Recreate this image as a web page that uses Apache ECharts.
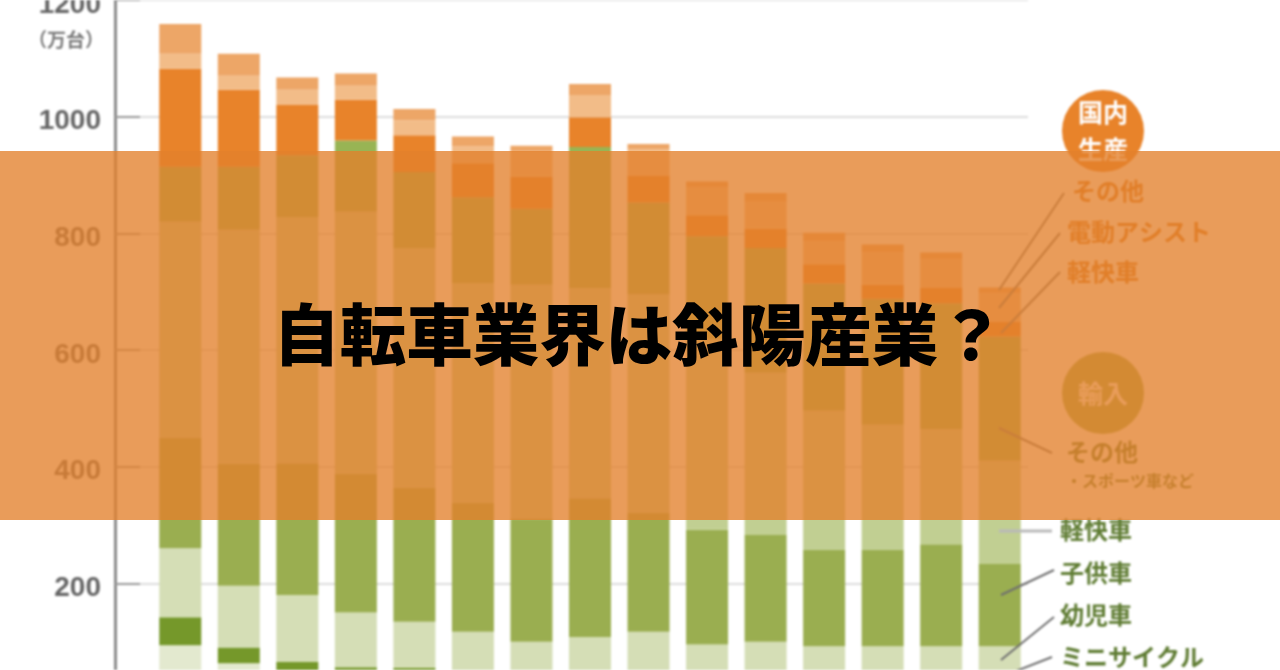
<!DOCTYPE html>
<html lang="ja">
<head>
<meta charset="utf-8">
<title>自転車業界は斜陽産業？</title>
<style>html,body{margin:0;padding:0;background:#fff;overflow:hidden}#chart{width:1280px;height:670px}</style>
<script src="https://cdn.jsdelivr.net/npm/echarts@6/dist/echarts.min.js"></script>
</head>
<body>
<div id="chart"></div>
<script>
// values in 万台; bottom of the stack first
const categories = ['1','2','3','4','5','6','7','8','9','10','11','12','13','14','15'];
const impOther0  = [94,63,39,29,26,21,21,21,21,21,21,21,21,21,21];
const impMini    = [48,27,26,27,29,21,17,17,17,14,14,14,14,14,14];
const impInfant  = [118,106,115,94,79,75,62,70,79,60,65,57,57,57,57];
const impChild   = [190,209,226,238,230,221,211,238,204,197,183,166,166,175,141];
const impCity    = [370,401,422,449,411,377,401,360,374,326,278,238,214,197,177];
const impOther   = [94,108,106,122,130,147,130,242,158,177,214,218,216,216,213];
const domCity    = [168,132,86,70,63,58,55,51,46,36,33,33,24,27,26];
const domAssist  = [26,24,26,24,26,29,43,38,45,48,46,39,55,48,48];
const domOther   = [51,38,21,21,19,17,10,19,9,10,15,15,14,12,10];
const yTicks = {min:0,max:1200,interval:200};
const titleText = '自転車業界は斜陽産業？';

const stack = [
  ['輸入 基部',impOther0,'#E3E9CF'],
  ['ミニサイクル',impMini,'#75982A'],
  ['幼児車',impInfant,'#D5DEB6'],
  ['子供車',impChild,'#9AAE50'],
  ['軽快車(輸入)',impCity,'#C1CF92'],
  ['その他(輸入)',impOther,'#98B454'],
  ['軽快車(国内)',domCity,'#E8832A'],
  ['電動アシスト',domAssist,'#F2BC88'],
  ['その他(国内)',domOther,'#EDA667']
];
const GREEN='#5F7C33', ORANGE='#D8781F', FONT='"Noto Sans CJK JP","Noto Sans",sans-serif';
function label(text,x,y,color,size){
  return {type:'text',z:20,style:{text,x,y,fill:color,font:'bold '+(size||24)+'px '+FONT,textVerticalAlign:'middle'}};
}
function leader(x1,y1,x2,y2,color,w){
  return {type:'line',z:20,shape:{x1,y1,x2,y2},style:{stroke:color||'#6f6f6f',lineWidth:w||2}};
}
function badge(cx,cy,fill,text,size){
  return [
    {type:'circle',z:20,shape:{cx,cy,r:41},style:{fill}},
    {type:'text',z:21,style:{text,x:cx,y:cy,fill:'#fff',align:'center',verticalAlign:'middle',textAlign:'center',textVerticalAlign:'middle',font:'bold '+size+'px '+FONT,lineHeight:size+12}}
  ];
}
const chart = echarts.init(document.getElementById('chart'),null,{renderer:'canvas'});
chart.setOption({
  animation:false,
  backgroundColor:'#fff',
  tooltip:{show:false},
  title:{text:titleText,left:634,textAlign:'center',top:296,zlevel:1,z:50,
    textStyle:{color:'#000',fontSize:66.5,fontWeight:900,fontFamily:FONT}},
  grid:[
    {left:151,top:0,width:878,height:700,outerBoundsMode:'none',containLabel:false},
    {left:115,top:0,width:913,height:700,outerBoundsMode:'none',containLabel:false}
  ],
  xAxis:[
    {type:'category',gridIndex:0,data:categories,show:false},
    {type:'category',gridIndex:1,data:categories,show:false}
  ],
  yAxis:[
    {type:'value',gridIndex:0,min:yTicks.min,max:yTicks.max,interval:yTicks.interval,show:false},
    {type:'value',gridIndex:1,min:yTicks.min,max:yTicks.max,interval:yTicks.interval,
      axisLine:{show:true,lineStyle:{color:'#8c8c8c',width:3}},
      axisTick:{show:true,inside:true,length:25,lineStyle:{color:'#999',width:2}},
      axisLabel:{show:true,margin:14,color:'#666',fontSize:28,fontWeight:'bold',fontFamily:'"Liberation Sans",sans-serif',verticalAlign:'top',lineHeight:10,showMinLabel:true,showMaxLabel:true,formatter:v=>String(v)},
      splitLine:{show:true,lineStyle:{color:'#dcdcdc',width:2}}}
  ],
  series:stack.map(([name,data,color])=>({
    type:'bar',name,data,stack:'total',xAxisIndex:0,yAxisIndex:0,barWidth:42,
    itemStyle:{color},emphasis:{disabled:true}
  })),
  graphic:{elements:[
    {type:'text',z:20,style:{text:'（万台）',x:28,y:40,fill:'#7a7a7a',font:'bold 19px '+FONT,textVerticalAlign:'middle'}},
    ...badge(1103,131,'#E8832A','国内\n生産',25),
    ...badge(1103,393,'#9AAE50','輸入',25),
    label('その他',1072,191,ORANGE),
    label('電動アシスト',1067,232,ORANGE),
    label('軽快車',1067,272,ORANGE),
    label('その他',1066,452,GREEN),
    label('・スポーツ車など',1066,481,GREEN,16),
    label('軽快車',1060,530,GREEN),
    label('子供車',1060,573,GREEN),
    label('幼児車',1060,615,GREEN),
    label('ミニサイクル',1060,657,GREEN),
    leader(1064,193,999,290),
    leader(1060,233,999,308),
    leader(1060,272,1001,333),
    leader(999,428,1052,453),
    leader(999,531,1052,531,'#b9b9b9',3),
    leader(1001,595,1054,570),
    leader(1001,660,1054,617),
    leader(1001,677,1052,657),
    {type:'rect',zlevel:1,z:10,shape:{x:0,y:151,width:1280,height:369},style:{fill:'rgba(227,128,44,0.78)'}}
  ]}
});
// the source picture is a soft, enlarged image: only the chart layer is softened, not the band or title
const base = document.querySelector('canvas[data-zr-dom-id="zr_0"]');
if (base) base.style.filter = 'blur(1.2px)';
</script>
</body>
</html>
